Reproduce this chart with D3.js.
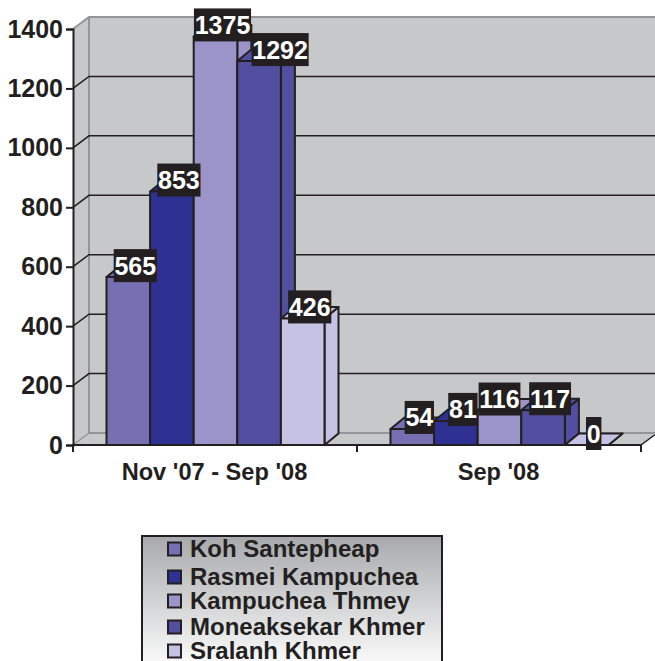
<!DOCTYPE html>
<html lang="en">
<head>
  <meta charset="UTF-8">
  <title>Newspaper readership chart</title>
  <script src="https://d3js.org/d3.v7.min.js"></script>
  <style>
    html, body { margin: 0; padding: 0; background: #fff; overflow: hidden; }
    svg { display: block; }
    text { font-family: "Liberation Sans", Arial, sans-serif; font-weight: bold; fill: #231f20; }
  </style>
</head>
<body>
  <script>
    // Chart data
    const categories = ["Nov '07 - Sep '08", "Sep '08"];
    const seriesNames = ["Koh Santepheap", "Rasmei Kampuchea", "Kampuchea Thmey", "Moneaksekar Khmer", "Sralanh Khmer"];
    const nov07Values = [565, 853, 1375, 1292, 426];
    const sep08Values = [54, 81, 116, 117, 0];
    const yTicks = [0, 200, 400, 600, 800, 1000, 1200, 1400];

    const seriesColors = ["#7670b3", "#2e3192", "#9b94c8", "#524fa1", "#c5c2e4"];
    const ink = "#231f20", wallColor = "#c7c8ca", wallEdge = "#939598";

    const width = 655, height = 661;
    const svg = d3.select("body").append("svg").attr("width", width).attr("height", height);

    const rows = [nov07Values, sep08Values];

    // Scales
    const x0 = d3.scaleBand().domain(categories).range([73, 641]);
    const x1 = d3.scaleBand().domain(seriesNames).range([33.5, 251.5]);
    const y = d3.scaleLinear().domain([0, 1400]).range([445, 29]);

    // 3D offsets
    const wallDx = 16, wallDy = -12;   // depth of the chart box
    const barDx = 14, barDy = -11.5;   // depth of a bar

    // Walls and floor
    const poly = pts => pts.map(p => p.join(",")).join(" ");
    svg.append("polygon")
       .attr("points", poly([[73, y(0)], [73 + wallDx, y(0) + wallDy], [73 + wallDx, y(1400) + wallDy], [73, y(1400)]]))
       .attr("fill", wallColor);
    svg.append("rect")
       .attr("x", 73 + wallDx).attr("y", y(1400) + wallDy)
       .attr("width", width - 73 - wallDx).attr("height", y(0) - y(1400))
       .attr("fill", wallColor);
    svg.append("polygon")
       .attr("points", poly([[73, y(0)], [73 + wallDx, y(0) + wallDy], [width, y(0) + wallDy], [641, y(0)]]))
       .attr("fill", wallColor);

    // Wall edges
    svg.append("path")
       .attr("d", `M73,${y(1400)}L89,${y(1400) + wallDy}H${width}M89,${y(1400) + wallDy}V${y(0) + wallDy}H${width}`)
       .attr("fill", "none").attr("stroke", wallEdge).attr("stroke-width", 2);
    svg.append("path")
       .attr("d", `M73,${y(0)}L89,${y(0) + wallDy}`)
       .attr("fill", "none").attr("stroke", wallEdge).attr("stroke-width", 1.5);
    svg.append("path")
       .attr("d", `M641,${y(0)}L${width},${y(0) + wallDy * 14 / 16}`)
       .attr("fill", "none").attr("stroke", ink).attr("stroke-width", 1.5);

    // Gridlines
    const gridTicks = yTicks.filter(d => d > 0 && d < 1400);
    svg.append("g").selectAll("path")
       .data(gridTicks)
       .enter()
       .append("path")
       .attr("d", d => `M73,${y(d)}L89,${y(d) + wallDy}H${width}`)
       .attr("fill", "none")
       .attr("stroke", ink)
       .attr("stroke-width", 1.5);

    // Bars
    const barData = categories.flatMap((c, i) => seriesNames.map((s, j) => ({
      cat: c, series: s, value: rows[i][j], color: seriesColors[j]
    })));

    const bars = svg.append("g").selectAll("g")
       .data(barData)
       .enter()
       .append("g")
       .attr("stroke", ink)
       .attr("stroke-width", 2)
       .attr("stroke-linejoin", "round")
       .attr("fill", d => d.color);

    const left = d => x0(d.cat) + x1(d.series);
    const right = d => left(d) + x1.bandwidth();

    bars.append("polygon") // side
        .attr("points", d => poly([[right(d), y(0)], [right(d) + barDx, y(0) + barDy], [right(d) + barDx, y(d.value) + barDy], [right(d), y(d.value)]]));
    bars.append("polygon") // top
        .attr("points", d => poly([[left(d), y(d.value)], [left(d) + barDx, y(d.value) + barDy], [right(d) + barDx, y(d.value) + barDy], [right(d), y(d.value)]]));
    bars.append("rect") // front
        .attr("x", left)
        .attr("y", d => y(d.value))
        .attr("width", x1.bandwidth())
        .attr("height", d => y(0) - y(d.value));

    // Axes
    const yAxis = d3.axisLeft(y).tickValues(yTicks).tickFormat(d3.format("d")).tickSize(7).tickPadding(3);
    const gy = svg.append("g").attr("transform", "translate(73,0)").call(yAxis);
    gy.select(".domain").attr("stroke", ink).attr("stroke-width", 2);
    gy.selectAll(".tick line").attr("stroke", ink).attr("stroke-width", 2);
    gy.selectAll(".tick text").attr("font-size", 25).attr("font-family", null).style("fill", ink);

    svg.append("line")
       .attr("x1", 72).attr("x2", 641).attr("y1", y(0)).attr("y2", y(0))
       .attr("stroke", ink).attr("stroke-width", 2);

    svg.append("g").selectAll("line")
       .data([73, 357, 641])
       .enter()
       .append("line")
       .attr("x1", d => d).attr("x2", d => d)
       .attr("y1", y(0)).attr("y2", y(0) + 7)
       .attr("stroke", ink).attr("stroke-width", 2);

    svg.append("g").selectAll("text")
       .data(categories)
       .enter()
       .append("text")
       .attr("x", d => x0(d) + x0.bandwidth() / 2 - 0.5)
       .attr("y", 480)
       .attr("text-anchor", "middle")
       .attr("font-size", 23.6)
       .text(d => d);

    // Data labels: black boxes, a couple are shifted sideways to avoid each other
    const labelShift = { "1292": 14, "116": -7 };
    const labels = svg.append("g").selectAll("g")
       .data(barData)
       .enter()
       .append("g")
       .attr("transform", d => {
         const cx = (left(d) + right(d)) / 2 + 7 + (labelShift[d.value] || 0);
         return `translate(${cx},${y(d.value) - 11.5})`;
       });
    labels.append("rect").attr("fill", ink).attr("y", -16.5).attr("height", 33);
    labels.append("text")
       .attr("text-anchor", "middle")
       .attr("y", 9)
       .attr("font-size", 25)
       .style("fill", "#fff")
       .text(d => d.value);
    labels.each(function () {
      const w = d3.select(this).select("text").node().getComputedTextLength() + 1.5;
      d3.select(this).select("rect").attr("x", -w / 2).attr("width", w);
    });

    // Legend, cut off by the bottom of the page like the original
    const grad = svg.append("defs").append("linearGradient")
       .attr("id", "legendFill").attr("x1", 0).attr("x2", 0).attr("y1", 0).attr("y2", 1);
    grad.append("stop").attr("offset", 0).attr("stop-color", "#a7a9ac");
    grad.append("stop").attr("offset", 1).attr("stop-color", "#ffffff");

    svg.append("rect")
       .attr("x", 142).attr("y", 536)
       .attr("width", 300).attr("height", 135)
       .attr("fill", "url(#legendFill)")
       .attr("stroke", ink).attr("stroke-width", 2);

    const legendY = d3.scaleOrdinal().domain(seriesNames).range([549, 577, 601, 627, 651]);
    const legend = svg.append("g").selectAll("g")
       .data(seriesNames)
       .enter()
       .append("g")
       .attr("transform", d => `translate(167,${legendY(d)})`);
    legend.append("rect")
       .attr("x", 1).attr("y", -6.5).attr("width", 13).attr("height", 13)
       .attr("fill", (d, i) => seriesColors[i])
       .attr("stroke", ink).attr("stroke-width", 2);
    legend.append("text")
       .attr("x", 23).attr("y", 8)
       .attr("font-size", 24)
       .text(d => d);
  </script>
</body>
</html>
